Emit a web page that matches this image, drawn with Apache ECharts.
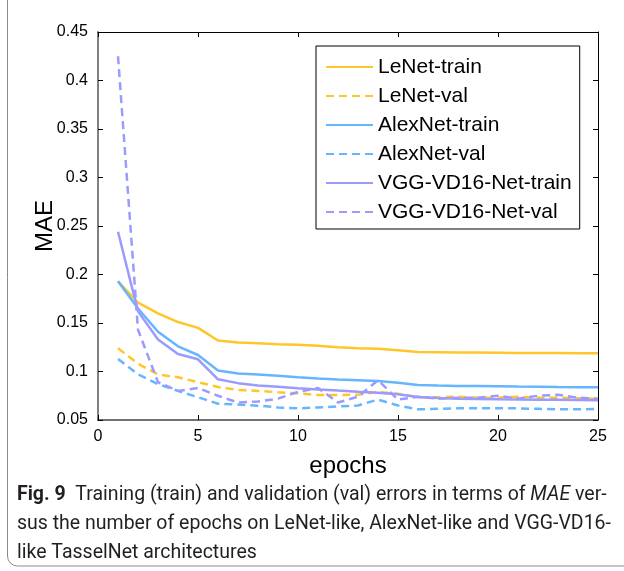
<!DOCTYPE html>
<html><head><meta charset="utf-8">
<script src="https://cdn.jsdelivr.net/npm/echarts@6/dist/echarts.min.js"></script>
<style>html,body{margin:0;padding:0;background:#fff}#c{width:624px;height:571px}</style>
</head><body><div id="c"></div>
<script>
const epochs = [1,2,3,4,5,6,7,8,9,10,11,12,13,14,15,16,17,18,19,20,21,22,23,24,25];
const xTicks = [0,5,10,15,20,25];
const yTicks = [0.05,0.1,0.15,0.2,0.25,0.3,0.35,0.4,0.45];
const seriesNames = ['LeNet-train','LeNet-val','AlexNet-train','AlexNet-val','VGG-VD16-Net-train','VGG-VD16-Net-val'];
const lenetTrain = [0.193,0.171,0.160,0.151,0.145,0.132,0.130,0.129,0.128,0.1275,0.1265,0.125,0.124,0.1235,0.122,0.120,0.1198,0.1195,0.1195,0.1193,0.119,0.119,0.119,0.1188,0.1187];
const lenetVal = [0.124,0.108,0.097,0.094,0.089,0.084,0.081,0.080,0.0786,0.0775,0.0758,0.0758,0.076,0.079,0.077,0.0735,0.0735,0.074,0.073,0.073,0.074,0.073,0.073,0.0725,0.072];
const alexTrain = [0.193,0.165,0.141,0.126,0.117,0.101,0.098,0.097,0.0957,0.094,0.0928,0.0918,0.091,0.0902,0.0885,0.0862,0.0855,0.085,0.085,0.0848,0.0845,0.0843,0.084,0.0838,0.0837];
const alexVal = [0.113,0.097,0.087,0.080,0.0735,0.0668,0.066,0.0648,0.063,0.062,0.063,0.064,0.065,0.071,0.065,0.061,0.0615,0.062,0.062,0.062,0.062,0.0615,0.061,0.061,0.0615];
const vggTrain = [0.244,0.162,0.133,0.118,0.1126,0.092,0.088,0.0856,0.0842,0.0828,0.0815,0.0803,0.0792,0.0782,0.0765,0.0737,0.0727,0.072,0.0716,0.0713,0.0712,0.071,0.0708,0.0706,0.0704];
const vggVal = [0.425,0.143,0.089,0.080,0.083,0.075,0.068,0.069,0.072,0.079,0.083,0.068,0.074,0.091,0.071,0.074,0.072,0.073,0.073,0.075,0.072,0.075,0.076,0.073,0.072];
const captionLines = [
  '{b|Fig. 9}  Training (train) and validation (val) errors in terms of {i|MAE} ver-',
  'sus the number of epochs on LeNet-like, AlexNet-like and VGG-VD16-',
  'like TasselNet architectures'
];

const colors = ['#FFC629','#FFC629','#66B5FF','#66B5FF','#9A9AFF','#9A9AFF'];
const allData = [lenetTrain, lenetVal, alexTrain, alexVal, vggTrain, vggVal];
const FONT = '"Liberation Sans", Arial, Helvetica, sans-serif';
const CAPFONT = 'Roboto, "Noto Sans", sans-serif';
const CAPSIZE = 19.5;

const chart = echarts.init(document.getElementById('c'), null, {renderer:'canvas'});
const series = allData.map((d, i) => ({
  name: seriesNames[i],
  type: 'line',
  data: epochs.map((e, k) => [e, d[k]]),
  symbol: 'none',
  xAxisIndex: 0, yAxisIndex: 0,
  lineStyle: { color: colors[i], width: 2.5, type: (i % 2 === 1) ? [8, 5] : 'solid' },
  itemStyle: { color: colors[i] },
  z: 3
}));

const axisLabelFont = { color: '#000', fontSize: 16, fontFamily: FONT };
chart.setOption({
  animation: false,
  backgroundColor: '#fff',
  grid: { left: 98, right: 26, top: 32, bottom: 151, containLabel: false },
  xAxis: [{
    type: 'value', min: 0, max: 25, interval: 5, position: 'bottom',
    name: 'epochs', nameLocation: 'middle', nameGap: 34, nameMoveOverlap: false,
    nameTextStyle: { color: '#000', fontSize: 24, fontFamily: FONT },
    axisLine: { show: true, onZero: false, lineStyle: { color: '#444', width: 1.5 } },
    axisTick: { show: true, inside: true, length: 5, lineStyle: { color: '#000' } },
    axisLabel: Object.assign({ margin: 9 }, axisLabelFont),
    splitLine: { show: false }
  }, {
    type: 'value', min: 0, max: 25, interval: 5, position: 'top',
    axisLine: { show: true, onZero: false, lineStyle: { color: '#000', width: 1 } },
    axisTick: { show: true, inside: true, length: 5, lineStyle: { color: '#000' } },
    axisLabel: { show: false }, splitLine: { show: false }
  }],
  yAxis: [{
    type: 'value', min: 0.05, max: 0.45, interval: 0.05, position: 'left',
    name: 'MAE', nameLocation: 'middle', nameGap: 41, nameRotate: 90, nameMoveOverlap: false,
    nameTextStyle: { color: '#000', fontSize: 24, fontFamily: FONT },
    axisLine: { show: true, onZero: false, lineStyle: { color: '#808080', width: 2 } },
    axisTick: { show: true, inside: true, length: 5, lineStyle: { color: '#000' } },
    axisLabel: Object.assign({ margin: 10, formatter: v => String(+v.toFixed(2)) }, axisLabelFont),
    splitLine: { show: false }
  }, {
    type: 'value', min: 0.05, max: 0.45, interval: 0.05, position: 'right',
    axisLine: { show: true, onZero: false, lineStyle: { color: '#000', width: 1 } },
    axisTick: { show: true, inside: true, length: 5, lineStyle: { color: '#000' } },
    axisLabel: { show: false }, splitLine: { show: false }
  }],
  legend: {
    orient: 'vertical', left: 316, top: 46,
    padding: [9, 8, 5, 9], itemGap: 5, itemWidth: 47, itemHeight: 14,
    borderColor: '#000', borderWidth: 1, backgroundColor: '#fff',
    itemStyle: { opacity: 0, borderWidth: 0 },
    textStyle: { color: '#000', fontSize: 21, fontFamily: FONT, lineHeight: 24 },
    data: seriesNames
  },
  series: series,
  graphic: [
    { type: 'rect', shape: { x: 7.5, y: -30, width: 660, height: 596, r: 10 },
      style: { fill: 'none', stroke: '#8a8a8a', lineWidth: 1 }, z: 0, silent: true },
    { type: 'text', left: 17, top: 481,
      style: { text: captionLines.join('\n'), fill: '#231f20', fontSize: CAPSIZE, lineHeight: 29, fontFamily: CAPFONT,
        rich: {
          b: { fontWeight: 'bold', fontSize: CAPSIZE, fontFamily: CAPFONT, fill: '#231f20' },
          i: { fontStyle: 'italic', fontSize: CAPSIZE, fontFamily: CAPFONT, fill: '#231f20' }
        } } }
  ]
});
</script></body></html>
